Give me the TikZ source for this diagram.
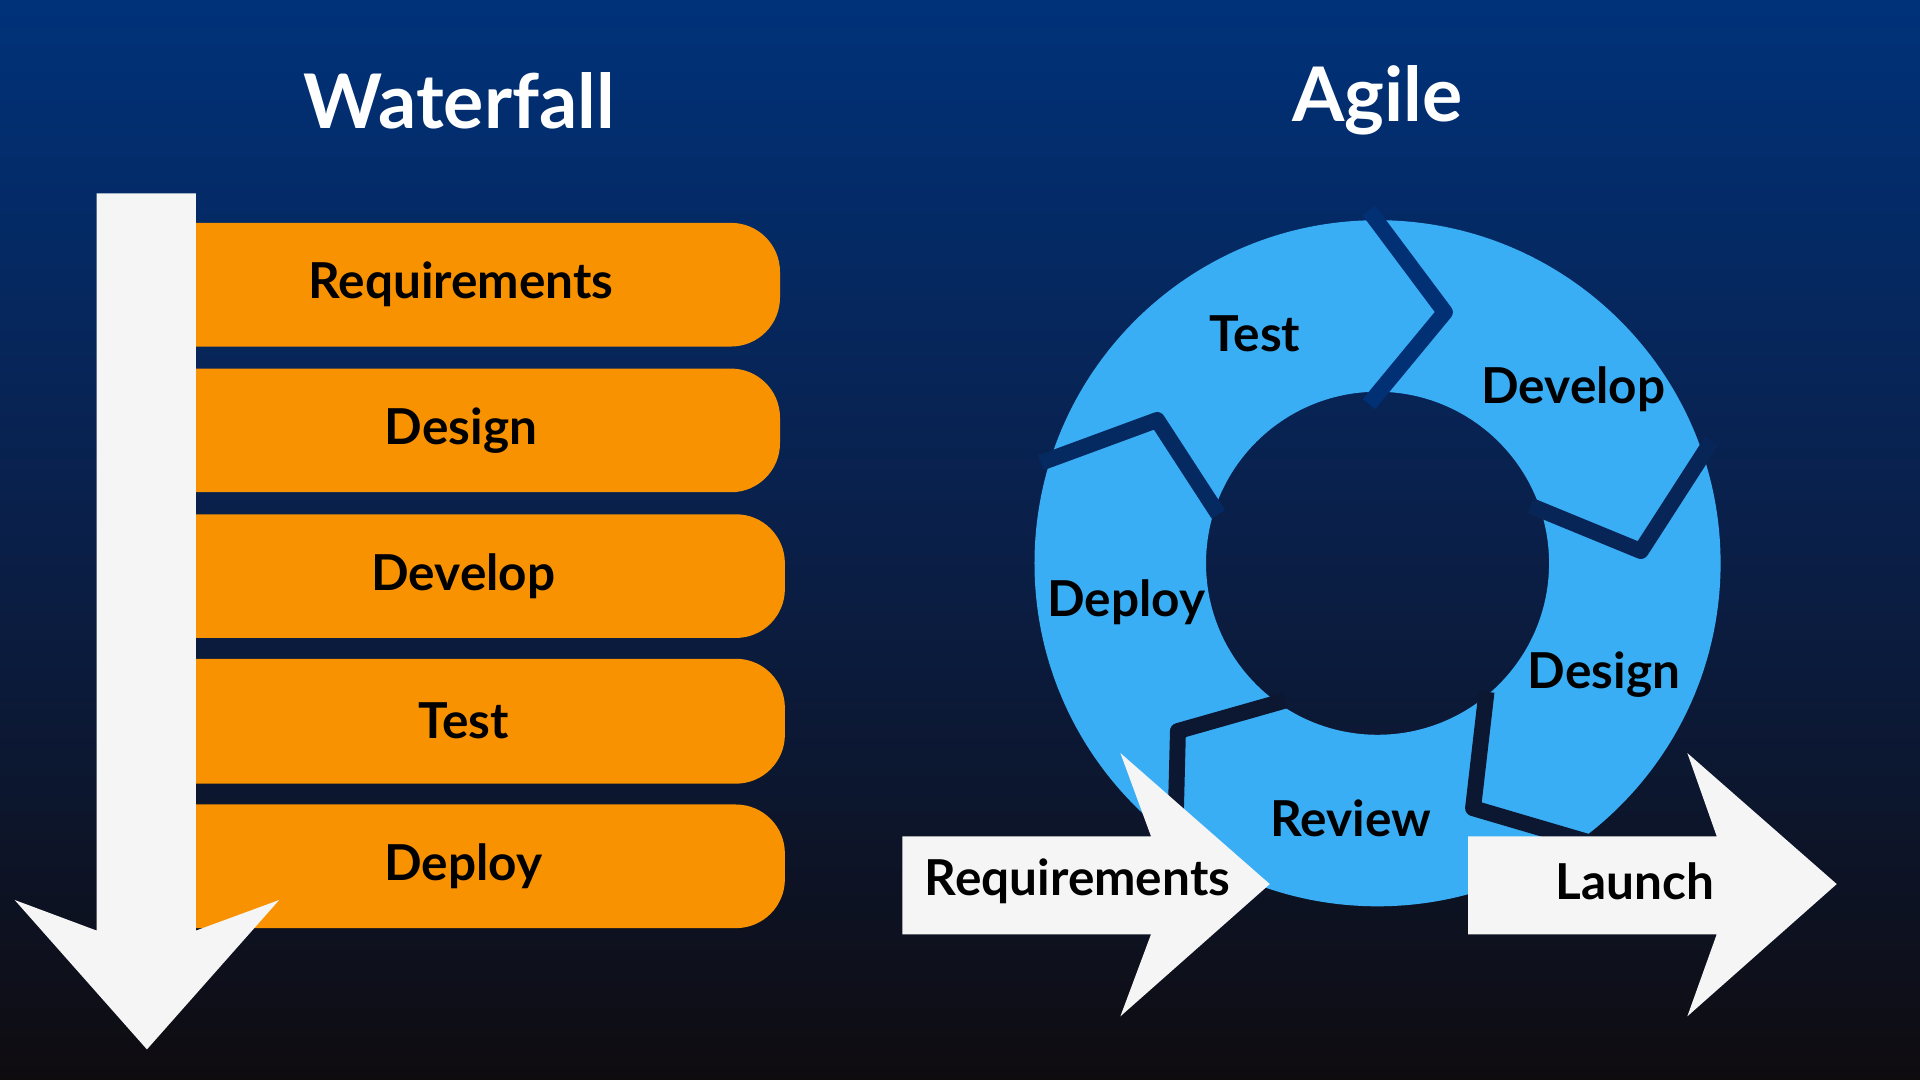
\documentclass[tikz,border=0pt]{standalone}
\usepackage{fontspec}
\setmainfont{Lato}
\definecolor{bgtop}{HTML}{00327A}
\definecolor{bgmid}{HTML}{0A1F48}
\definecolor{bgbot}{HTML}{0F0C10}
\definecolor{orng}{HTML}{F99200}
\definecolor{sky}{HTML}{3AAEF5}
\definecolor{wht}{HTML}{F5F5F5}
\begin{document}
\begin{tikzpicture}[x=0.01cm,y=-0.01cm,
  title/.style={text=white,font=\bfseries\fontsize{17.5}{19}\selectfont},
  lbl/.style={text=black,font=\bfseries\fontsize{11.5}{13}\selectfont},
  bar/.style={fill=orng,rounded corners=0.4cm},
  gap/.style={line width=0.13cm,line join=round}]
\shade[top color=bgtop,bottom color=bgbot,middle color=bgmid] (0,0) rectangle (1568,882);
\useasboundingbox (0,0) rectangle (1568,882);
\node[title] (tw) at (375,82) {Waterfall};
\node[title] (ta) at (1125,82) {Agile};
% bars
\foreach \t/\b/\r/\n/\nm in {182/283/637/Requirements/r1,301/402/637/Design/r2,420/521/641/Develop/r3,538/640/641/Test/r4,657/758/641/Deploy/r5}{
  \fill[bar] (120,\t) rectangle (\r,\b);
  \node[lbl] (\nm) at ({(160+\r)/2-22},{(\t+\b)/2}) {\n};
}
% waterfall arrow
\fill[wht] (79,158) -- (160,158) -- (160,760) -- (228,735) -- (120,857) -- (12,735) -- (79,760) -- cycle;
% ring
\fill[sky,even odd rule] (1125,460) circle[radius=2.8cm] (1125,460) circle[radius=1.4cm];
\draw[gap,color=bgtop!90!bgmid] (1118,172) -- (1180,255) -- (1118,330);
\draw[gap,color=bgmid!70!bgtop] (1398,360) -- (1340,450) -- (1250,413);
\draw[gap,color=bgmid!60!bgbot] (1214,565) -- (1203,660) -- (1305,690);
\draw[gap,color=bgmid!60!bgbot] (1050,572) -- (962,597) -- (960,675);
\draw[gap,color=bgmid!50!bgtop] (850,378) -- (945,343) -- (995,420);
\node[lbl] (a1) at (1025,273) {Test};
\node[lbl] (a2) at (1285,318) {Develop};
\node[lbl] (a3) at (920,492) {Deploy};
\node[lbl] (a4) at (1310,551) {Design};
\node[lbl] (a5) at (1103,668) {Review};
% entry / exit arrows
\fill[wht] (737,683) -- (940,683) -- (915,615) -- (1037,722) -- (915,830) -- (940,763) -- (737,763) -- cycle;
\fill[wht] (1199,683) -- (1402,683) -- (1378,615) -- (1500,722) -- (1378,830) -- (1402,763) -- (1199,763) -- cycle;
\node[lbl] (req) at (880,720) {Requirements};
\node[lbl] (lau) at (1335,720) {Launch};
\end{tikzpicture}
\end{document}
